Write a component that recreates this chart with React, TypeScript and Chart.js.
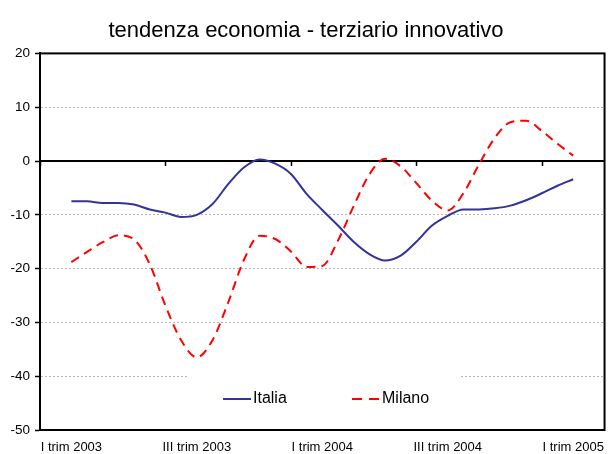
import React, { useEffect, useRef } from "react";
import { Chart, registerables } from "chart.js";

Chart.register(...registerables);

const chartTitle = "tendenza economia - terziario innovativo";
const seriesNames = ["Italia", "Milano"];
const xTickValues = [0, 2, 4, 6, 8];
const xTickLabels = ["I trim 2003", "III trim 2003", "I trim 2004", "III trim 2004", "I trim 2005"];
const xAxisTickMarks = [-0.5, 1.5, 3.5, 5.5, 7.5];
const quarterPos = [
  0, 0.25, 0.5, 0.75, 1, 1.25, 1.5, 1.75, 2, 2.25, 2.5, 2.75, 3, 3.25, 3.5, 3.75, 4,
  4.25, 4.5, 4.75, 5, 5.25, 5.5, 5.75, 6, 6.25, 6.5, 6.75, 7, 7.25, 7.5, 7.75, 8,
];
const italia = [
  -7.5, -7.5, -7.8, -7.8, -8.1, -9.0, -9.6, -10.4, -10.0, -8.0, -4.3, -1.2, 0.3, -0.5, -2.4, -6.1, -9.1,
  -12.0, -15.0, -17.3, -18.5, -17.6, -15.0, -12.0, -10.2, -9.0, -9.0, -8.8, -8.3, -7.3, -6.0, -4.6, -3.4,
];
const milano = [
  -18.8, -16.9, -15.1, -13.8, -14.6, -19.2, -26.9, -33.3, -36.5, -33.3, -26.3, -18.4, -13.9, -14.5, -16.8, -19.7, -19.5,
  -14.8, -8.4, -2.5, 0.4, -1.0, -4.1, -7.4, -9.2, -6.0, -0.6, 4.3, 7.2, 7.5, 5.6, 3.2, 1.0,
];

const FONT = "'Liberation Sans', Arial, sans-serif";
const ITALIA_COLOR = "#333399";
const MILANO_COLOR = "#ff0000";

const framePlugin = {
  id: "frame",
  beforeDatasetsDraw(chart: any) {
    const { ctx, chartArea } = chart;
    const x = chart.scales.x;
    const y = chart.scales.y;
    const y0 = y.getPixelForValue(0);
    ctx.save();
    ctx.fillStyle = "#fff";
    ctx.fillRect(189, 372, 271, 52);
    ctx.strokeStyle = "#000";
    ctx.lineWidth = 2;
    ctx.beginPath();
    ctx.moveTo(chartArea.left, y0);
    ctx.lineTo(chartArea.right, y0);
    ctx.stroke();
    ctx.lineWidth = 1.5;
    xAxisTickMarks.forEach((v) => {
      const px = Math.round(x.getPixelForValue(v)) + 0.5;
      ctx.beginPath();
      ctx.moveTo(px, y0);
      ctx.lineTo(px, y0 + 5);
      ctx.stroke();
    });
    ctx.lineWidth = 2;
    ctx.strokeRect(chartArea.left, chartArea.top, chartArea.right - chartArea.left, chartArea.bottom - chartArea.top);
    ctx.restore();
  },
  afterDatasetsDraw(chart: any) {
    const { ctx } = chart;
    ctx.save();
    const ly = 399;
    ctx.lineWidth = 2;
    ctx.strokeStyle = ITALIA_COLOR;
    ctx.beginPath();
    ctx.moveTo(223, ly);
    ctx.lineTo(251, ly);
    ctx.stroke();
    ctx.strokeStyle = MILANO_COLOR;
    ctx.setLineDash([10, 7]);
    ctx.beginPath();
    ctx.moveTo(352, ly);
    ctx.lineTo(379, ly);
    ctx.stroke();
    ctx.setLineDash([]);
    ctx.fillStyle = "#000";
    ctx.font = `16px ${FONT}`;
    ctx.textBaseline = "middle";
    ctx.textAlign = "left";
    ctx.fillText(seriesNames[0], 253, ly);
    ctx.fillText(seriesNames[1], 382, ly);
    ctx.restore();
  },
};

export default function App() {
  const ref = useRef<HTMLCanvasElement | null>(null);
  useEffect(() => {
    document.body.style.margin = "0";
    const canvas = ref.current!;
    const chart = new Chart(canvas, {
      type: "line",
      data: {
        datasets: [
          {
            label: seriesNames[0],
            data: quarterPos.map((q, i) => ({ x: q, y: italia[i] })),
            borderColor: ITALIA_COLOR,
            borderWidth: 2,
            pointRadius: 0,
            cubicInterpolationMode: "monotone",
            fill: false,
          },
          {
            label: seriesNames[1],
            data: quarterPos.map((q, i) => ({ x: q, y: milano[i] })),
            borderColor: MILANO_COLOR,
            borderWidth: 2,
            borderDash: [9, 6],
            pointRadius: 0,
            cubicInterpolationMode: "monotone",
            fill: false,
          },
        ],
      },
      options: {
        responsive: false,
        animation: false,
        devicePixelRatio: 1,
        layout: { padding: { left: 0, right: 2, top: 0, bottom: 0 } },
        plugins: {
          legend: { display: false },
          tooltip: { enabled: false },
          title: {
            display: true,
            text: chartTitle,
            color: "#000",
            font: { family: FONT, size: 22, weight: "normal" },
            padding: { top: 18, bottom: 9 },
          },
        },
        scales: {
          x: {
            type: "linear",
            min: -0.5,
            max: 8.5,
            grid: { display: false, drawTicks: false },
            border: { display: false },
            afterBuildTicks: (scale: any) => {
              scale.ticks = xTickValues.map((v) => ({ value: v }));
            },
            afterFit: (scale: any) => {
              scale.height = 24;
            },
            ticks: {
              autoSkip: false,
              maxRotation: 0,
              padding: 10,
              color: "#000",
              font: { family: FONT, size: 13 },
              callback: (v: any) => xTickLabels[xTickValues.indexOf(Number(v))],
            },
          },
          y: {
            min: -50,
            max: 20,
            afterFit: (scale: any) => {
              scale.width = 40;
            },
            ticks: {
              stepSize: 10,
              padding: 5,
              color: "#000",
              font: { family: FONT, size: 13.5 },
            },
            grid: {
              color: "#b4b4b4",
              lineWidth: 1,
              tickColor: "#000",
              tickLength: 5,
              tickWidth: 1.5,
              tickBorderDash: [],
            },
            border: { display: true, color: "#000", width: 2, dash: [2, 2] },
          },
        },
      },
      plugins: [framePlugin],
    } as any);
    return () => chart.destroy();
  }, []);
  return (
    <div style={{ position: "fixed", left: 0, top: 0, width: 614, height: 454, background: "#fff" }}>
      <canvas ref={ref} width={614} height={454} />
    </div>
  );
}
